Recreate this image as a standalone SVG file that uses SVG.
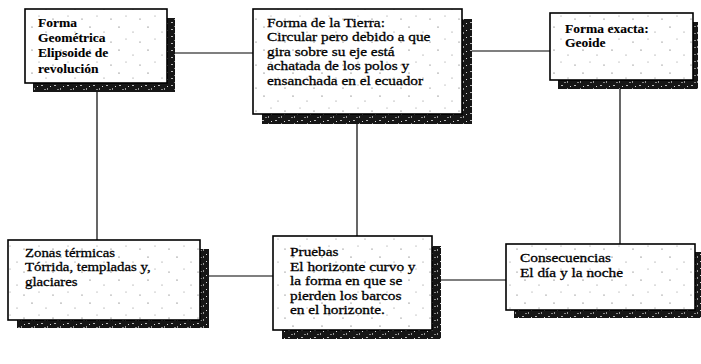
<svg xmlns="http://www.w3.org/2000/svg" width="701" height="364" viewBox="0 0 701 364">
<defs>
<pattern id="speck" width="29" height="23" patternUnits="userSpaceOnUse">
<rect width="29" height="23" fill="#fff"/>
<circle cx="3" cy="4" r="0.6" fill="#444"/>
<circle cx="17" cy="9" r="0.5" fill="#666"/>
<circle cx="24" cy="19" r="0.6" fill="#555"/>
<circle cx="10" cy="16" r="0.5" fill="#777"/>
</pattern>
<pattern id="shade" width="13" height="7" patternUnits="userSpaceOnUse">
<rect width="13" height="7" fill="#161616"/>
<rect x="2" y="1" width="2" height="1" fill="#bbb"/>
<rect x="8" y="4" width="1" height="2" fill="#999"/>
<rect x="11" y="2" width="1" height="1" fill="#ddd"/>
<rect x="5" y="5" width="2" height="1" fill="#888"/>
</pattern>
</defs>
<style>
.sh{fill:url(#shade);}
.bx{fill:url(#speck);stroke:#000;stroke-width:1.6;}
.t{font-family:"Liberation Serif","Times New Roman",serif;font-size:13px;fill:#000;stroke:#000;stroke-width:0.3;}
.b{font-weight:bold;stroke-width:0.1;}
.c{stroke:#000;stroke-width:1.2;fill:none;}
</style>
<g id="connectors">
<line class="c" x1="167" y1="53" x2="253" y2="53"/>
<line class="c" x1="462" y1="51" x2="550" y2="51"/>
<line class="c" x1="97" y1="83" x2="97" y2="240"/>
<line class="c" x1="357" y1="114" x2="357" y2="236"/>
<line class="c" x1="620" y1="80" x2="620" y2="244"/>
<line class="c" x1="200" y1="276" x2="273" y2="276"/>
<line class="c" x1="432" y1="280" x2="506" y2="280"/>
</g>
<g id="node1">
<rect class="sh" x="33" y="18" width="142" height="74"/>
<rect class="bx" x="25" y="9" width="142" height="74"/>
<text class="t b" transform="translate(38 0) scale(1.04 1)"><tspan x="0" y="27">Forma</tspan><tspan x="0" y="42">Geométrica</tspan><tspan x="0" y="57.5">Elipsoide de</tspan><tspan x="0" y="73">revolución</tspan></text>
</g>
<g id="node2">
<rect class="sh" x="262" y="19" width="210" height="105"/>
<rect class="bx" x="253" y="9" width="209" height="105"/>
<text class="t" transform="translate(267 0) scale(1.18 1)"><tspan x="0" y="27">Forma de la Tierra:</tspan><tspan x="0" y="41.5">Circular pero debido a que</tspan><tspan x="0" y="56">gira sobre su eje está</tspan><tspan x="0" y="70.5">achatada de los polos y</tspan><tspan x="0" y="85">ensanchada en el ecuador</tspan></text>
</g>
<g id="node3">
<rect class="sh" x="558" y="22" width="140" height="67"/>
<rect class="bx" x="550" y="13" width="143" height="67"/>
<text class="t b" transform="translate(565 0) scale(1.04 1)"><tspan x="0" y="33">Forma exacta:</tspan><tspan x="0" y="47.5">Geoide</tspan></text>
</g>
<g id="node4">
<rect class="sh" x="17" y="249" width="192" height="79"/>
<rect class="bx" x="8" y="240" width="192" height="80"/>
<text class="t" transform="translate(25 0) scale(1.14 1)"><tspan x="0" y="257">Zonas térmicas</tspan><tspan x="0" y="271.5">Tórrida, templadas y,</tspan><tspan x="0" y="286">glaciares</tspan></text>
</g>
<g id="node5">
<rect class="sh" x="282" y="246" width="159" height="93"/>
<rect class="bx" x="273" y="236" width="159" height="94"/>
<text class="t" transform="translate(290 0) scale(1.18 1)"><tspan x="0" y="256.5">Pruebas</tspan><tspan x="0" y="271">El horizonte curvo y</tspan><tspan x="0" y="285.5">la forma en que se</tspan><tspan x="0" y="300">pierden los barcos</tspan><tspan x="0" y="314.5">en el horizonte.</tspan></text>
</g>
<g id="node6">
<rect class="sh" x="514" y="252" width="190" height="66"/>
<rect class="bx" x="506" y="244" width="189" height="66"/>
<text class="t" transform="translate(520 0) scale(1.18 1)"><tspan x="0" y="262.5">Consecuencias</tspan><tspan x="0" y="277">El día y la noche</tspan></text>
</g>
</svg>
